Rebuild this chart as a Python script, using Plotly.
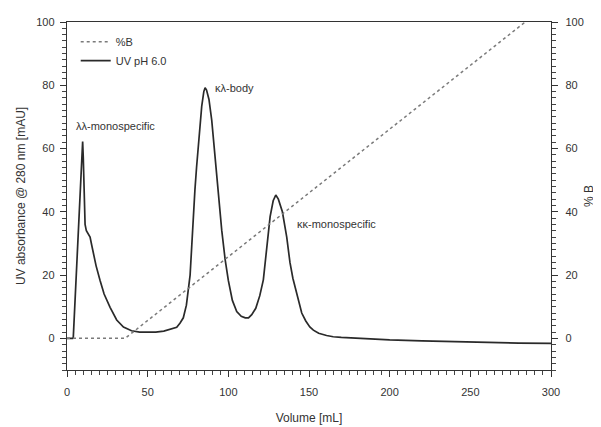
import plotly.graph_objects as go

# %B gradient
pctb_x = [0, 36, 284]
pctb_y = [0, 0, 100]

# UV trace (pH 6.0)
uv_x = [0, 3.5, 3.9, 6, 8.1, 9.3, 9.7, 10.1, 10.5, 11.2, 12, 13, 14.3, 15.3, 16.3, 18, 20.5, 23, 26.7, 30.8,
        35, 40, 45, 50, 55, 60, 64, 68, 70, 72.1, 74, 76.3, 77.3, 78.3, 79.3, 80.3, 81.4, 83.5, 84.8, 85.6,
        86.5, 88, 89.7, 91.2, 92.8, 94.3, 95.9, 98, 100, 102.5, 105.2, 108, 110.5, 112.5, 114.5, 117, 119.5,
        121.7, 124, 125.9, 127.8, 129.4, 131, 133.5, 136.2, 138.2, 140, 142.4, 145.5, 148, 150.5, 152.7, 156,
        160.9, 165, 170, 180, 190, 200, 220, 240, 260, 280, 300]
uv_y = [0, 0, 0.3, 22.5, 45, 59, 62.2, 57, 45, 36, 34, 33.2, 32, 29.5, 26.8, 23, 18.3, 14, 9.8, 5.8,
        3.6, 2.4, 2.0, 1.9, 2.0, 2.3, 2.9, 3.5, 4.8, 6.5, 10.5, 20, 29, 39, 47, 54, 61, 73.3, 78, 79.2,
        78.5, 75.5, 69, 60, 50, 42, 34.2, 25, 18.3, 12, 8.5, 7, 6.5, 6.5, 7.5, 9.5, 13.5,
        18.5, 30, 38.5, 43.5, 45.3, 44, 40, 32, 24, 19, 14, 8, 5.5, 3.6, 2.6, 1.6,
        0.9, 0.5, 0.3, 0, -0.3, -0.5, -0.8, -1.1, -1.3, -1.5, -1.6]

peak_labels = ["λλ-monospecific", "κλ-body", "κκ-monospecific"]
peak_label_x = [4.3, 90.5, 141.3]
peak_label_y = [67, 79.2, 36.1]

x_tick_step = 50
y_tick_step = 20

FONT = "Liberation Sans, Arial, sans-serif"
TXT = "#333333"

fig = go.Figure()
fig.add_trace(go.Scatter(x=pctb_x, y=pctb_y, mode="lines", name="%B",
                         line=dict(color="#7a7a7a", width=1.5, dash="dot"), yaxis="y2"))
fig.add_trace(go.Scatter(x=uv_x, y=uv_y, mode="lines", name="UV pH 6.0",
                         line=dict(color="#2a2a2a", width=1.7)))

for t, xx, yy in zip(peak_labels, peak_label_x, peak_label_y):
    fig.add_annotation(x=xx, y=yy, text=t, showarrow=False, xanchor="left", yanchor="middle",
                       font=dict(family=FONT, size=11, color=TXT))

common = dict(showgrid=False, zeroline=False, showline=True, linecolor="#333333", linewidth=1.4,
              ticks="outside", ticklen=6, tickwidth=1.2, tickcolor="#333333", automargin=False,
              tickfont=dict(family=FONT, size=11, color=TXT))

def minor(step):
    return dict(ticks="outside", ticklen=3.5, tickwidth=1, tickcolor="#444444", dtick=step, showgrid=False)

fig.update_layout(
    width=593, height=419,
    margin=dict(l=59, r=50, t=14, b=57),
    paper_bgcolor="white", plot_bgcolor="white",
    font=dict(family=FONT, size=11, color=TXT),
    legend=dict(x=0.018, y=0.985, xanchor="left", yanchor="top", bgcolor="rgba(0,0,0,0)",
                font=dict(family=FONT, size=11, color=TXT), tracegroupgap=0, itemwidth=30),
    xaxis=dict(range=[0, 300], tickmode="linear", tick0=0, dtick=x_tick_step, mirror=True,
               minor=minor(5), ticklabelstandoff=6,
               title=dict(text="Volume [mL]", font=dict(family=FONT, size=12, color=TXT), standoff=16),
               **common),
    yaxis=dict(range=[-10, 100], tickmode="linear", tick0=0, dtick=y_tick_step,
               minor=minor(2), ticklabelstandoff=3,
               title=dict(text="UV absorbance @ 280 nm [mAU]", font=dict(family=FONT, size=12, color=TXT),
                          standoff=8),
               **common),
    yaxis2=dict(range=[-10, 100], tickmode="linear", tick0=0, dtick=y_tick_step, overlaying="y", side="right",
                minor=minor(2), ticklabelstandoff=5,
                title=dict(text="% B", font=dict(family=FONT, size=12, color=TXT), standoff=1),
                **common),
)

fig.write_html("out.html")
